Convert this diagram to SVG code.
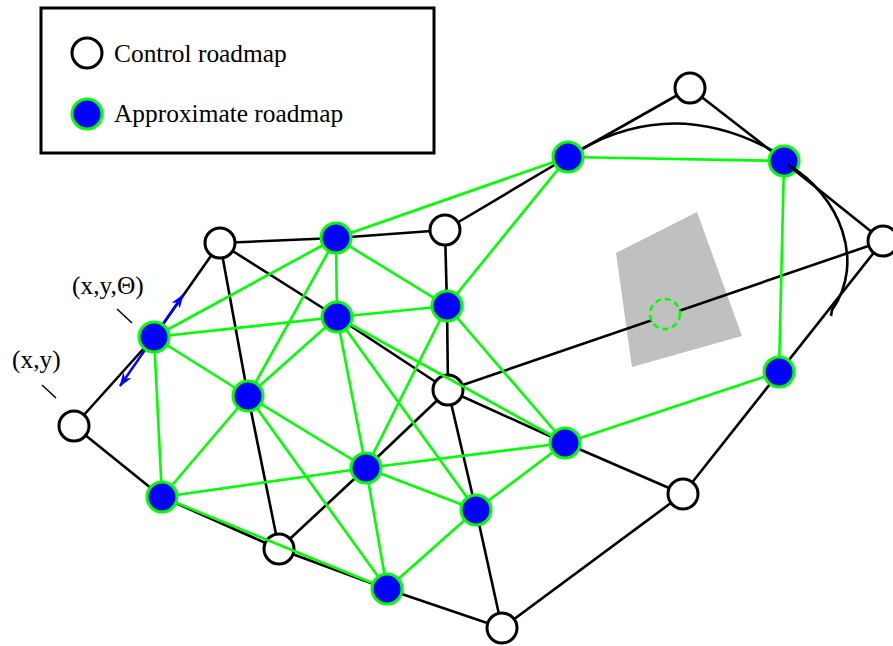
<svg xmlns="http://www.w3.org/2000/svg" width="893" height="646" viewBox="0 0 893 646">
<style>
.ctrl{fill:#fff;stroke:#000;stroke-width:3}
.appr{fill:#0000ff;stroke:#00ff00;stroke-width:3}
.ce{stroke:#000;stroke-width:2.6;fill:none}
.ae{stroke:#00ff00;stroke-width:2.6;fill:none}
.lbl{font-family:"Liberation Serif","Times New Roman",serif;font-size:25.4px;fill:#000}
</style>
<defs>
<marker id="ah" viewBox="0 0 14 10" refX="13" refY="5" markerWidth="14" markerHeight="10" markerUnits="userSpaceOnUse" orient="auto-start-reverse">
<path d="M0,0 L14,5 L0,10 L4,5 z" fill="#0000ff"/>
</marker>
</defs>
<rect width="893" height="646" fill="#fff"/>

<g id="legend">
<rect x="41" y="8" width="393" height="145" fill="#fff" stroke="#000" stroke-width="3"/>
<circle class="ctrl" cx="87" cy="53" r="15"/>
<text class="lbl" x="114" y="62">Control roadmap</text>
<circle class="appr" cx="87" cy="114" r="15"/>
<text class="lbl" x="114" y="122">Approximate roadmap</text>
</g>

<polygon id="obstacle" points="616,253 697,212 742,336 632,367" fill="#c0c0c0"/>

<g id="connectors-control">
<line class="ce" x1="74" y1="426" x2="154" y2="337"/>
<line class="ce" x1="154" y1="337" x2="220" y2="243"/>
<line class="ce" x1="74" y1="426" x2="162" y2="497"/>
<line class="ce" x1="162" y1="497" x2="279" y2="549"/>
<line class="ce" x1="279" y1="549" x2="387" y2="589"/>
<line class="ce" x1="387" y1="589" x2="502" y2="628"/>
<line class="ce" x1="502" y1="628" x2="683" y2="494"/>
<line class="ce" x1="683" y1="494" x2="565" y2="443"/>
<line class="ce" x1="565" y1="443" x2="448" y2="390"/>
<line class="ce" x1="448" y1="390" x2="337" y2="317"/>
<line class="ce" x1="337" y1="317" x2="220" y2="243"/>
<line class="ce" x1="220" y1="243" x2="336" y2="238"/>
<line class="ce" x1="336" y1="238" x2="445" y2="230"/>
<line class="ce" x1="445" y1="230" x2="568" y2="157"/>
<line class="ce" x1="445" y1="230" x2="447" y2="306"/>
<line class="ce" x1="447" y1="306" x2="448" y2="390"/>
<line class="ce" x1="220" y1="243" x2="248" y2="396"/>
<line class="ce" x1="248" y1="396" x2="279" y2="549"/>
<line class="ce" x1="448" y1="390" x2="366" y2="468"/>
<line class="ce" x1="366" y1="468" x2="279" y2="549"/>
<line class="ce" x1="448" y1="390" x2="476" y2="510"/>
<line class="ce" x1="476" y1="510" x2="502" y2="628"/>
<line class="ce" x1="448" y1="390" x2="883" y2="241"/>
<line class="ce" x1="690" y1="88" x2="568" y2="157"/>
<line class="ce" x1="690" y1="88" x2="784" y2="161"/>
<line class="ce" x1="883" y1="241" x2="683" y2="494"/>
<path class="ce" d="M580,150 Q675,96 775,152"/>
</g>

<g id="dashed-node">
<circle cx="665" cy="314" r="15" fill="#c0c0c0" stroke="#00ff00" stroke-width="2.6" stroke-dasharray="6,4"/>
</g>

<g id="W1"><circle class="ctrl" cx="74" cy="426" r="15"/></g>
<g id="W2"><circle class="ctrl" cx="220" cy="243" r="15"/></g>
<g id="W3"><circle class="ctrl" cx="445" cy="230" r="15"/></g>
<g id="W4"><circle class="ctrl" cx="690" cy="88" r="15"/></g>
<g id="W6"><circle class="ctrl" cx="448" cy="390" r="15"/></g>
<g id="W7"><circle class="ctrl" cx="683" cy="494" r="15"/></g>
<g id="W8"><circle class="ctrl" cx="279" cy="549" r="15"/></g>
<g id="W9"><circle class="ctrl" cx="502" cy="628" r="15"/></g>

<g id="connectors-approx">
<line class="ae" x1="154" y1="337" x2="336" y2="238"/>
<line class="ae" x1="154" y1="337" x2="337" y2="317"/>
<line class="ae" x1="154" y1="337" x2="248" y2="396"/>
<line class="ae" x1="154" y1="337" x2="162" y2="497"/>
<line class="ae" x1="336" y1="238" x2="568" y2="157"/>
<line class="ae" x1="336" y1="238" x2="337" y2="317"/>
<line class="ae" x1="336" y1="238" x2="447" y2="306"/>
<line class="ae" x1="336" y1="238" x2="248" y2="396"/>
<line class="ae" x1="337" y1="317" x2="447" y2="306"/>
<line class="ae" x1="337" y1="317" x2="248" y2="396"/>
<line class="ae" x1="337" y1="317" x2="366" y2="468"/>
<line class="ae" x1="337" y1="317" x2="476" y2="510"/>
<line class="ae" x1="337" y1="317" x2="565" y2="443"/>
<line class="ae" x1="447" y1="306" x2="568" y2="157"/>
<line class="ae" x1="447" y1="306" x2="366" y2="468"/>
<line class="ae" x1="447" y1="306" x2="565" y2="443"/>
<line class="ae" x1="248" y1="396" x2="162" y2="497"/>
<line class="ae" x1="248" y1="396" x2="366" y2="468"/>
<line class="ae" x1="248" y1="396" x2="387" y2="589"/>
<line class="ae" x1="162" y1="497" x2="366" y2="468"/>
<line class="ae" x1="162" y1="497" x2="387" y2="589"/>
<line class="ae" x1="366" y1="468" x2="387" y2="589"/>
<line class="ae" x1="366" y1="468" x2="476" y2="510"/>
<line class="ae" x1="366" y1="468" x2="565" y2="443"/>
<line class="ae" x1="476" y1="510" x2="565" y2="443"/>
<line class="ae" x1="476" y1="510" x2="387" y2="589"/>
<line class="ae" x1="568" y1="157" x2="784" y2="161"/>
<line class="ae" x1="784" y1="161" x2="779" y2="372"/>
<line class="ae" x1="779" y1="372" x2="565" y2="443"/>
</g>

<g id="orientation-arrow">
<line x1="120" y1="386" x2="183" y2="295" stroke="#0000ff" stroke-width="2.4" marker-start="url(#ah)" marker-end="url(#ah)"/>
</g>

<g id="B1"><circle class="appr" cx="154" cy="337" r="15"/></g>
<g id="B2"><circle class="appr" cx="336" cy="238" r="15"/></g>
<g id="B3"><circle class="appr" cx="337" cy="317" r="15"/></g>
<g id="B4"><circle class="appr" cx="447" cy="306" r="15"/></g>
<g id="B5"><circle class="appr" cx="248" cy="396" r="15"/></g>
<g id="B6"><circle class="appr" cx="568" cy="157" r="15"/></g>
<g id="B7"><circle class="appr" cx="784" cy="161" r="15"/></g>
<g id="B8"><circle class="appr" cx="779" cy="372" r="15"/></g>
<g id="B9"><circle class="appr" cx="565" cy="443" r="15"/></g>
<g id="B10"><circle class="appr" cx="366" cy="468" r="15"/></g>
<g id="B11"><circle class="appr" cx="162" cy="497" r="15"/></g>
<g id="B12"><circle class="appr" cx="476" cy="510" r="15"/></g>
<g id="B13"><circle class="appr" cx="387" cy="589" r="15"/></g>

<g id="connectors-over">
<line class="ce" x1="788" y1="165" x2="883" y2="241"/>
<path class="ce" d="M788,165 C840,195 866,262 832,310 L831,316"/>
</g>

<g id="W5"><circle class="ctrl" cx="883" cy="241" r="15"/></g>

<g id="labels">
<text class="lbl" x="72" y="294">(x,y,Θ)</text>
<line x1="117" y1="309" x2="132" y2="323" stroke="#000" stroke-width="1.5"/>
<text class="lbl" x="12" y="368">(x,y)</text>
<line x1="42" y1="385" x2="56" y2="398" stroke="#000" stroke-width="1.5"/>
</g>
</svg>
